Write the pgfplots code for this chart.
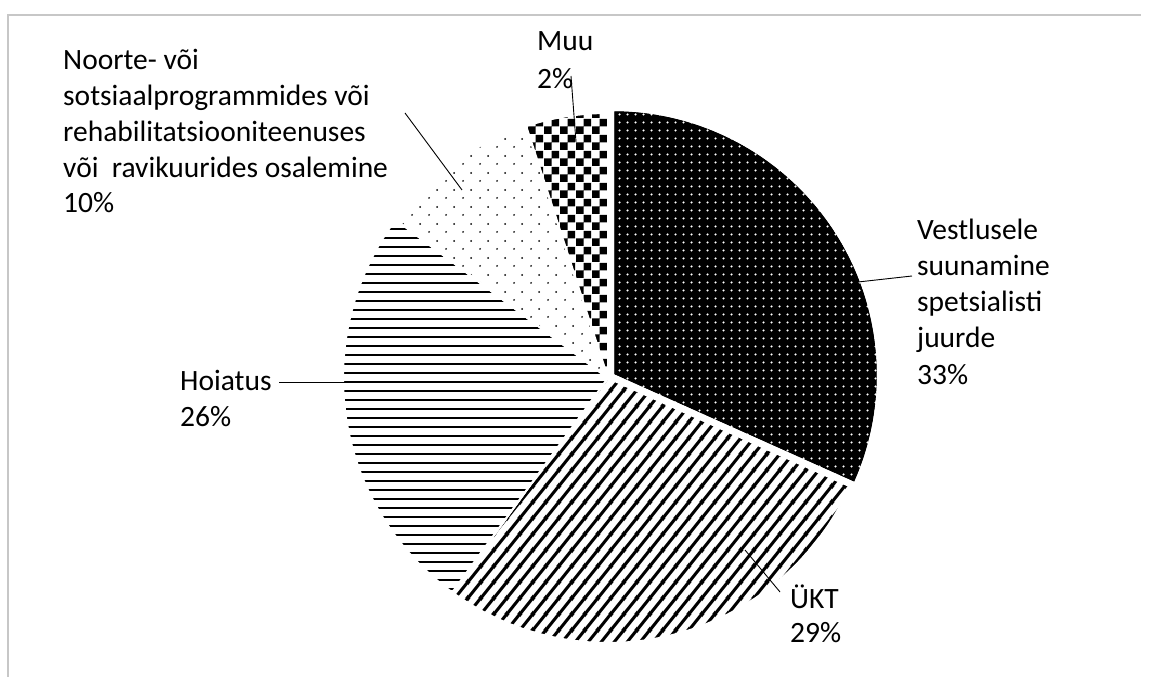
\documentclass[border=0pt]{standalone}
\usepackage{pgfplots}
\pgfplotsset{compat=1.18}
\usepackage{pgfplotstable}
\usepackage{fontspec}
\setmainfont{Carlito}
\usetikzlibrary{patterns}

% white dots on black (Vestlusele)
\pgfdeclarepatternformonly{wdots}{\pgfqpoint{0bp}{0bp}}{\pgfqpoint{8bp}{8bp}}{\pgfqpoint{8bp}{8bp}}{%
  \pgfpathcircle{\pgfqpoint{4bp}{4bp}}{1.3bp}\pgfusepath{fill}}
% sparse black dots (Noorte)
\pgfdeclarepatternformonly{sdots}{\pgfqpoint{0bp}{0bp}}{\pgfqpoint{17bp}{17bp}}{\pgfqpoint{17bp}{17bp}}{%
  \pgfpathcircle{\pgfqpoint{4.25bp}{4.25bp}}{1.05bp}\pgfpathcircle{\pgfqpoint{12.75bp}{12.75bp}}{1.05bp}\pgfusepath{fill}}
% checkerboard (Muu)
\pgfdeclarepatternformonly{checker}{\pgfqpoint{0bp}{0bp}}{\pgfqpoint{16bp}{16bp}}{\pgfqpoint{16bp}{16bp}}{%
  \pgfpathrectangle{\pgfqpoint{0bp}{0bp}}{\pgfqpoint{8bp}{8bp}}\pgfpathrectangle{\pgfqpoint{8bp}{8bp}}{\pgfqpoint{8bp}{8bp}}\pgfusepath{fill}}
% horizontal lines (Hoiatus)
\pgfdeclarepatternformonly{hlines}{\pgfqpoint{0bp}{0bp}}{\pgfqpoint{8.5bp}{8.5bp}}{\pgfqpoint{8.5bp}{8.5bp}}{%
  \pgfsetlinewidth{2bp}\pgfpathmoveto{\pgfqpoint{-1bp}{4.25bp}}\pgfpathlineto{\pgfqpoint{9.5bp}{4.25bp}}\pgfusepath{stroke}}
% diagonal stripes (ÜKT)
\pgfdeclarepatternformonly{dlines}{\pgfqpoint{0bp}{0bp}}{\pgfqpoint{13bp}{16bp}}{\pgfqpoint{13bp}{16bp}}{%
  \pgfsetlinewidth{3.2bp}%
  \pgfpathmoveto{\pgfqpoint{-13bp}{-16bp}}\pgfpathlineto{\pgfqpoint{26bp}{32bp}}%
  \pgfpathmoveto{\pgfqpoint{0bp}{-16bp}}\pgfpathlineto{\pgfqpoint{39bp}{32bp}}%
  \pgfpathmoveto{\pgfqpoint{-26bp}{-16bp}}\pgfpathlineto{\pgfqpoint{13bp}{32bp}}%
  \pgfusepath{stroke}}

\pgfplotstableread{
slice share
Vestlusele 31.7
UKT 28.3
Hoiatus 25.2
Noorte 9.8
Muu 5.0
}\piedata

\pgfplotstablegetelem{0}{share}\of\piedata \pgfmathsetmacro\aA{90-3.6*\pgfplotsretval}
\pgfplotstablegetelem{1}{share}\of\piedata \pgfmathsetmacro\aB{\aA-3.6*\pgfplotsretval}
\pgfplotstablegetelem{2}{share}\of\piedata \pgfmathsetmacro\aC{\aB-3.6*\pgfplotsretval}
\pgfplotstablegetelem{3}{share}\of\piedata \pgfmathsetmacro\aD{\aC-3.6*\pgfplotsretval}
\pgfplotstablegetelem{4}{share}\of\piedata \pgfmathsetmacro\aE{\aD-3.6*\pgfplotsretval}

\newcommand\lbl{\fontsize{29.5bp}{36bp}\selectfont}
\tikzset{lab/.style={font=\lbl, text=black, inner sep=0pt, anchor=base west}}
\def\cx{608}\def\cy{299}\def\rr{265}
\def\ex{613}\def\ey{302}

\begin{document}
\begin{tikzpicture}
\begin{axis}[x=1bp, y=1bp, xmin=0, xmax=1149, ymin=0, ymax=677,
  hide axis, clip=false, no markers]
\path (axis cs:0,0) rectangle (axis cs:1149,677);
% frame
\addplot[black!22, line width=1.5bp] coordinates {(8,0) (8,662) (1141,662)};
% slices
\addplot[fill=black, draw=white, line width=2bp, postaction={pattern=wdots, pattern color=white},
  domain=\aA:90, samples=90, variable=\t] ({\ex+\rr*cos(\t)}, {\ey+\rr*sin(\t)}) -- (axis cs:\ex,\ey) -- cycle;
\addplot[fill=white, draw=white, line width=2bp, postaction={pattern=dlines, pattern color=black},
  domain=\aB:\aA, samples=90, variable=\t] ({\cx+\rr*cos(\t)}, {\cy+\rr*sin(\t)}) -- (axis cs:\cx,\cy) -- cycle;
\addplot[fill=white, draw=white, line width=2bp, postaction={pattern=hlines, pattern color=black},
  domain=\aC:\aB, samples=90, variable=\t] ({\cx+\rr*cos(\t)}, {\cy+\rr*sin(\t)}) -- (axis cs:\cx,\cy) -- cycle;
\addplot[fill=white, draw=white, line width=2bp, postaction={pattern=sdots, pattern color=black},
  domain=\aD:\aC, samples=40, variable=\t] ({\cx+\rr*cos(\t)}, {\cy+\rr*sin(\t)}) -- (axis cs:\cx,\cy) -- cycle;
\addplot[fill=white, draw=white, line width=2bp, postaction={pattern=checker, pattern color=black},
  domain=\aE:\aD, samples=20, variable=\t] ({\cx+\rr*cos(\t)}, {\cy+\rr*sin(\t)}) -- (axis cs:\cx,\cy) -- cycle;
% leader lines
\addplot[black, line width=0.9bp] coordinates {(571,601) (576,535)};
\addplot[black, line width=0.9bp] coordinates {(405,564) (462,487)};
\addplot[black, line width=0.9bp] coordinates {(858,395) (912,401)};
\addplot[black, line width=0.9bp] coordinates {(745,127) (780,85)};
\addplot[black, line width=0.9bp] coordinates {(279,295) (345,295)};
% labels
\node[lab] at (axis cs:537,626) {Muu};
\node[lab] at (axis cs:537,588) {2\%};
\node[lab] at (axis cs:63,607) {Noorte- või};
\node[lab] at (axis cs:63,571) {sotsiaalprogrammides või};
\node[lab] at (axis cs:63,535) {rehabilitatsiooniteenuses};
\node[lab] at (axis cs:63,499.5) {või~ ravikuurides osalemine};
\node[lab] at (axis cs:63,464) {10\%};
\node[lab] at (axis cs:917,437) {Vestlusele};
\node[lab] at (axis cs:917,401) {suunamine};
\node[lab] at (axis cs:917,365) {spetsialisti};
\node[lab] at (axis cs:917,329) {juurde};
\node[lab] at (axis cs:917,292) {33\%};
\node[lab] at (axis cs:180,286) {Hoiatus};
\node[lab] at (axis cs:180,250) {26\%};
\node[lab] at (axis cs:790,68) {ÜKT};
\node[lab] at (axis cs:790,34) {29\%};
\end{axis}
\end{tikzpicture}
\end{document}
